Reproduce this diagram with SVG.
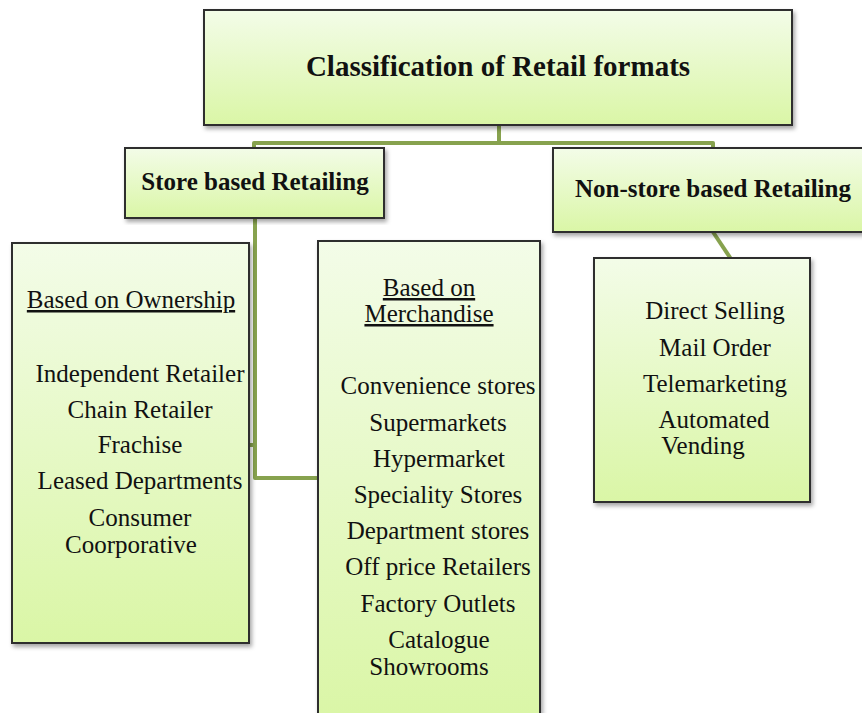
<svg xmlns="http://www.w3.org/2000/svg" width="862" height="713" viewBox="0 0 862 713">
<defs>
<linearGradient id="g" x1="0" y1="0" x2="0" y2="1">
<stop offset="0" stop-color="#f3fce8"/>
<stop offset="1" stop-color="#daf6a6"/>
</linearGradient>
<filter id="sh" x="-10%" y="-10%" width="120%" height="120%">
<feDropShadow dx="2" dy="3" stdDeviation="2" flood-color="#000" flood-opacity="0.35"/>
</filter>
</defs>
<style>
.box{fill:url(#g);stroke:#2e2e2e;stroke-width:2;filter:url(#sh)}
.con{fill:none;stroke:#87a24e;stroke-width:4;stroke-linejoin:round}
text{font-family:"Liberation Serif","Times New Roman",serif;fill:#111;font-size:25px;text-anchor:middle}
.b{font-weight:bold}
.u{text-decoration:underline}
</style>
<rect width="862" height="713" fill="#fff"/>
<g id="connectors">
<path class="con" d="M499 125 V143 M254 150 V143 H713 V150"/>
<path class="con" d="M255 218 V478 H318 M255 445 H249"/>
<path class="con" d="M713 232 L731 259"/>
</g>
<g id="root">
<rect class="box" x="204" y="10" width="588" height="115"/>
<text class="b" x="498" y="76" style="font-size:29px">Classification of Retail formats</text>
</g>
<g id="store">
<rect class="box" x="125" y="148" width="259" height="70"/>
<text class="b" x="255" y="190">Store based Retailing</text>
</g>
<g id="nonstore">
<rect class="box" x="553" y="148" width="320" height="84"/>
<text class="b" x="713" y="197">Non-store based Retailing</text>
</g>
<g id="ownership">
<rect class="box" x="12" y="243" width="237" height="400"/>
<text class="u" x="131" y="308">Based on Ownership</text>
<text x="140" y="382">Independent Retailer</text>
<text x="140" y="418">Chain Retailer</text>
<text x="140" y="453">Frachise</text>
<text x="140" y="489">Leased Departments</text>
<text x="140" y="526">Consumer</text>
<text x="131" y="553">Coorporative</text>
</g>
<g id="merchandise">
<rect class="box" x="318" y="241" width="222" height="480"/>
<text class="u" x="429" y="296">Based on</text>
<text class="u" x="429" y="322">Merchandise</text>
<text x="438" y="394">Convenience stores</text>
<text x="438" y="431">Supermarkets</text>
<text x="439" y="467">Hypermarket</text>
<text x="438" y="503">Speciality Stores</text>
<text x="438" y="539">Department stores</text>
<text x="438" y="575">Off price Retailers</text>
<text x="438" y="612">Factory Outlets</text>
<text x="439" y="648">Catalogue</text>
<text x="429" y="675">Showrooms</text>
</g>
<g id="nonstore-list">
<rect class="box" x="594" y="258" width="216" height="244"/>
<text x="715" y="319">Direct Selling</text>
<text x="715" y="356">Mail Order</text>
<text x="715" y="392">Telemarketing</text>
<text x="714" y="428">Automated</text>
<text x="703" y="454">Vending</text>
</g>
</svg>
